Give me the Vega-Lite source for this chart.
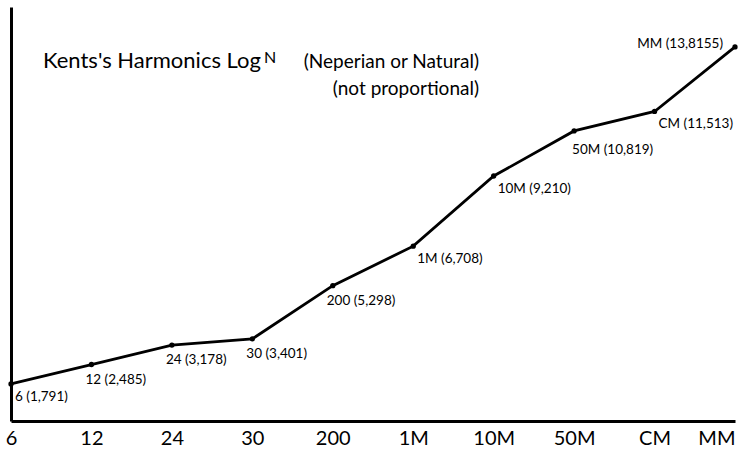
{
  "$schema": "https://vega.github.io/schema/vega-lite/v6.json",
  "width": 724,
  "height": 414,
  "autosize": "none",
  "padding": {"left": 11, "top": 7, "right": 9, "bottom": 31},
  "background": "white",
  "config": {"view": {"stroke": null}, "font": "Lato", "text": {"color": "black", "font": "Lato"}},
  "data": {
    "values": [
      {"k": "6", "v": 1.791, "label": "6 (1,791)"},
      {"k": "12", "v": 2.485, "label": "12 (2,485)"},
      {"k": "24", "v": 3.178, "label": "24 (3,178)"},
      {"k": "30", "v": 3.401, "label": "30 (3,401)"},
      {"k": "200", "v": 5.298, "label": "200 (5,298)"},
      {"k": "1M", "v": 6.708, "label": "1M (6,708)"},
      {"k": "10M", "v": 9.21, "label": "10M (9,210)"},
      {"k": "50M", "v": 10.819, "label": "50M (10,819)"},
      {"k": "CM", "v": 11.513, "label": "CM (11,513)"},
      {"k": "MM", "v": 13.8155, "label": "MM (13,8155)"}
    ]
  },
  "encoding": {
    "x": {
      "field": "k",
      "type": "ordinal",
      "sort": null,
      "scale": {"type": "point", "padding": 0},
      "axis": {
        "title": null,
        "domainWidth": 3,
        "domainColor": "black",
        "ticks": false,
        "grid": false,
        "labelFontSize": 20,
        "labelColor": "black",
        "labelFont": "Lato",
        "labelPadding": 7,
        "labelAngle": 0,
        "labelBound": false,
        "labelOverlap": false,
        "labelFlush": false,
        "labelAlign": {"condition": {"test": "datum.value === 'MM'", "value": "right"}, "value": "center"}
      }
    },
    "y": {
      "field": "v",
      "type": "quantitative",
      "scale": {"domain": [0.47, 15.24], "nice": false, "zero": false},
      "axis": {
        "title": null,
        "domainWidth": 3,
        "domainColor": "black",
        "ticks": false,
        "labels": false,
        "grid": false
      }
    }
  },
  "layer": [
    {"mark": {"type": "line", "color": "black", "strokeWidth": 2.8}},
    {"mark": {"type": "point", "filled": true, "color": "black", "size": 28, "opacity": 1}},
    {
      "transform": [{"filter": {"field": "k", "oneOf": ["12", "24", "30", "200"]}}],
      "mark": {"type": "text", "align": "left", "baseline": "top", "dx": -6, "dy": 8, "fontSize": 13.5},
      "encoding": {"text": {"field": "label"}}
    },
    {
      "transform": [{"filter": {"field": "k", "equal": "50M"}}],
      "mark": {"type": "text", "align": "left", "baseline": "top", "dx": -2, "dy": 12, "fontSize": 13.5},
      "encoding": {"text": {"field": "label"}}
    },
    {
      "transform": [{"filter": {"field": "k", "oneOf": ["6", "1M", "10M", "CM"]}}],
      "mark": {"type": "text", "align": "left", "baseline": "top", "dx": 4, "dy": 6, "fontSize": 13.5},
      "encoding": {"text": {"field": "label"}}
    },
    {
      "transform": [{"filter": {"field": "k", "equal": "MM"}}],
      "mark": {"type": "text", "align": "right", "baseline": "alphabetic", "dx": -12, "dy": 1, "fontSize": 13.5},
      "encoding": {"text": {"field": "label"}}
    },
    {
      "transform": [{"filter": {"field": "k", "equal": "6"}}],
      "mark": {"type": "text", "align": "left", "baseline": "alphabetic", "dx": 32, "dy": -316, "fontSize": 22},
      "encoding": {"text": {"value": "Kents's Harmonics Log"}}
    },
    {
      "transform": [{"filter": {"field": "k", "equal": "6"}}],
      "mark": {"type": "text", "align": "left", "baseline": "alphabetic", "dx": 253, "dy": -321, "fontSize": 16},
      "encoding": {"text": {"value": "N"}}
    },
    {
      "transform": [{"filter": {"field": "k", "equal": "6"}}],
      "mark": {"type": "text", "align": "right", "baseline": "alphabetic", "dx": 468, "dy": -316, "fontSize": 19},
      "encoding": {"text": {"value": "(Neperian or Natural)"}}
    },
    {
      "transform": [{"filter": {"field": "k", "equal": "6"}}],
      "mark": {"type": "text", "align": "right", "baseline": "alphabetic", "dx": 468, "dy": -289, "fontSize": 19},
      "encoding": {"text": {"value": "(not proportional)"}}
    }
  ]
}
